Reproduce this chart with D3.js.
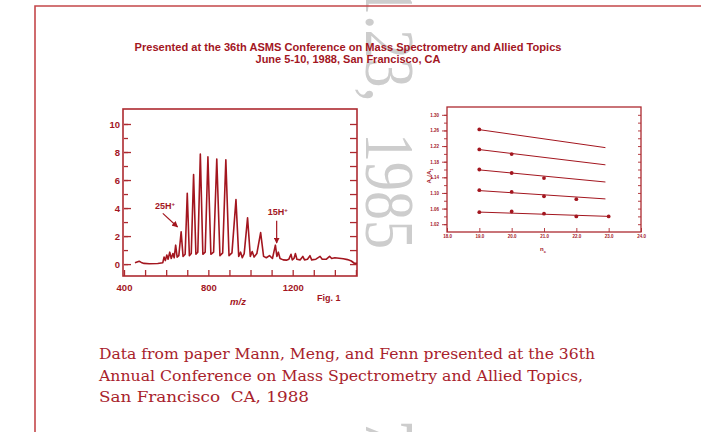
<!DOCTYPE html>
<html>
<head>
<meta charset="utf-8">
<script src="https://cdn.jsdelivr.net/npm/d3@7"></script>
<style>
  body { margin: 0; background: #fff; }
  svg { display: block; }
  .sans { font-family: "Liberation Sans", Arial, sans-serif; font-weight: bold; }
  .caption { white-space: pre; }
</style>
</head>
<body>
<div id="chart-area"></div>
<script>
// datos
const titleLines = [
  "Presented at the 36th ASMS Conference on Mass Spectrometry and Allied Topics",
  "June 5-10, 1988, San Francisco, CA"
];
const captionLines = [
  "Data from paper Mann, Meng, and Fenn presented at the 36th",
  "Annual Conference on Mass Spectrometry and Allied Topics,",
  "San Francisco  CA, 1988"
];

// espectro: [m/z, intensidad]
const spectrum = [
  [452,0.1],[462,0.15],[472,0.2],[482,0.12],[495,0.05],[520,0.02],[560,0.04],[584,0.1],
  [590,0.5],[596,0.25],[603,0.65],[609,0.35],[617,0.85],[624,0.4],[632,0.75],[638,0.45],
  [645,1.35],[652,0.5],[660,0.6],[671,2.3],[680,0.55],[690,0.7],[700,5.05],[710,0.6],
  [719,0.75],[730,6.4],[741,0.7],[750,0.85],[762,7.85],[774,0.7],[785,0.85],[798,7.65],
  [812,0.7],[825,0.85],[840,7.5],[855,0.6],[868,0.8],[883,7.45],[898,0.6],[912,0.8],
  [931,4.6],[944,0.55],[953,0.85],[961,0.45],[970,0.75],[986,3.3],[999,0.55],[1008,0.9],
  [1017,0.5],[1030,0.75],[1048,2.25],[1062,0.55],[1075,0.45],[1090,0.6],[1104,0.4],
  [1118,1.35],[1125,0.55],[1132,0.85],[1140,0.4],[1155,0.3],[1170,0.28],[1182,0.35],
  [1192,0.7],[1198,0.3],[1206,0.4],[1213,0.75],[1220,0.35],[1235,0.3],[1248,0.55],
  [1256,0.3],[1270,0.35],[1282,0.6],[1290,0.3],[1310,0.35],[1330,0.55],[1340,0.35],
  [1360,0.35],[1375,0.55],[1385,0.4],[1400,0.45],[1420,0.42],[1440,0.38],[1460,0.32],
  [1478,0.22],[1492,0.06],[1505,0.05]
];
const specXTickLabels = [400, 800, 1200];
const specYTickLabels = [0, 2, 4, 6, 8, 10];
// etiquetas de carga: punta y cola de la flecha, posicion del texto
const chargeLabels = [
  { z: "25", tip: [654, 2.65], tail: [584, 3.62], text: [595, 3.9] },
  { z: "15", tip: [1124, 1.5], tail: [1124, 3.1], text: [1129, 3.5] }
];

// grafico derecho
const nValues = [19, 20, 21, 22, 23];
const ratioSeries = [
  [1.2625],
  [1.2115, 1.1995],
  [1.160, 1.151, 1.138],
  [1.107, 1.1025, 1.0915, 1.084],
  [1.0508, 1.0525, 1.047, 1.040, 1.040]
];
const fitStart = [19, 19, 19, 19, 19];
const fitEnd = [22.9, 22.9, 22.9, 22.9, 23.0];
const fitStartValues = [1.262, 1.211, 1.159, 1.106, 1.051];
const fitEndValues = [1.216, 1.172, 1.128, 1.0847, 1.040];
const nTickLabels = ["18.0", "19.0", "20.0", "21.0", "22.0", "23.0", "24.0"];
const ratioTickLabels = ["1.02", "1.06", "1.10", "1.14", "1.18", "1.22", "1.26", "1.30"];

const ink = "#a3161f";
const frameColor = "#ad2a30";
const width = 701;
const height = 432;

const svg = d3.select("#chart-area")
  .append("svg")
  .attr("width", width)
  .attr("height", height);

// marca de agua gris
const wm = svg.append("g")
  .attr("fill", "#cdcdcd")
  .attr("font-family", "'Liberation Serif', 'Times New Roman', serif")
  .attr("font-size", 58);
wm.append("text")
  .attr("transform", "translate(366,-14) rotate(90) scale(1,1.2)")
  .text("1.23,");
wm.append("text")
  .attr("transform", "translate(366,133) rotate(90) scale(1,1.2)")
  .text("1985");
wm.append("text")
  .attr("transform", "translate(366,420) rotate(90) scale(1,1.2)")
  .text("75");

// borde exterior
svg.append("path")
  .attr("d", "M35,432 V6 H701")
  .attr("fill", "none")
  .attr("stroke", "#c4474a")
  .attr("stroke-width", 1.6);

// titulo
svg.append("g").selectAll("text")
  .data(titleLines)
  .enter().append("text")
  .attr("class", "sans")
  .attr("x", 348)
  .attr("y", (d, i) => 51 + i * 12)
  .attr("text-anchor", "middle")
  .attr("font-size", 10)
  .attr("fill", ink)
  .attr("textLength", (d, i) => i === 0 ? 427 : 185)
  .attr("lengthAdjust", "spacingAndGlyphs")
  .text(d => d);

// ---------- espectro ----------
const x = d3.scaleLinear().domain([400, 1505]).range([124, 357]);
const y = d3.scaleLinear().domain([-0.85, 11.07]).range([276, 109]);

const spec = svg.append("g").attr("class", "sans");

// ejes
const styleAxis = g => {
  g.select(".domain").remove();
  g.selectAll("line").attr("stroke", frameColor).attr("stroke-width", 1.3);
  g.selectAll("text").attr("fill", ink).attr("font-size", 9.5).attr("font-weight", "bold")
    .attr("font-family", "'Liberation Sans', Arial, sans-serif");
};

spec.append("g")
  .attr("transform", "translate(124,0)")
  .call(d3.axisLeft(y).tickValues(d3.range(0, 11, 1)).tickSize(-4).tickFormat(""))
  .call(styleAxis);
spec.append("g")
  .attr("transform", "translate(124,0)")
  .call(d3.axisLeft(y).tickValues(specYTickLabels).tickSize(-7).tickPadding(4))
  .call(styleAxis);
spec.append("g")
  .attr("transform", "translate(357,0)")
  .call(d3.axisRight(y).tickValues(d3.range(0, 11, 1)).tickSize(-7).tickFormat(""))
  .call(styleAxis);
spec.append("g")
  .attr("transform", "translate(0,276)")
  .call(d3.axisBottom(x).tickValues(d3.range(400, 1501, 100)).tickSize(-6).tickPadding(8)
    .tickFormat(d => specXTickLabels.includes(d) ? d : ""))
  .call(styleAxis);

spec.append("rect")
  .attr("x", x(400) - 1).attr("y", y(11.07))
  .attr("width", x(1505) - x(400) + 1).attr("height", y(-0.85) - y(11.07))
  .attr("fill", "none")
  .attr("stroke", frameColor)
  .attr("stroke-width", 1.6);

const specLine = d3.line()
  .x(d => x(d[0]))
  .y(d => y(d[1]));

spec.append("path")
  .datum(spectrum)
  .attr("d", specLine)
  .attr("fill", "none")
  .attr("stroke", ink)
  .attr("stroke-width", 1.6)
  .attr("stroke-linejoin", "round");

// flechas
svg.append("defs").append("marker")
  .attr("id", "head")
  .attr("viewBox", "0 0 10 10")
  .attr("refX", 9).attr("refY", 5)
  .attr("markerWidth", 5).attr("markerHeight", 5)
  .attr("orient", "auto")
  .append("path")
  .attr("d", "M0,0 L10,5 L0,10 z")
  .attr("fill", ink);

chargeLabels.forEach(c => {
  spec.append("line")
    .attr("x1", x(c.tail[0])).attr("y1", y(c.tail[1]))
    .attr("x2", x(c.tip[0])).attr("y2", y(c.tip[1]))
    .attr("stroke", ink)
    .attr("stroke-width", 1.2)
    .attr("marker-end", "url(#head)");
  const t = spec.append("text")
    .attr("x", x(c.text[0])).attr("y", y(c.text[1]))
    .attr("text-anchor", "middle")
    .attr("font-size", 9)
    .attr("fill", ink);
  t.append("tspan").text(c.z + "H");
  t.append("tspan").attr("dy", -3).attr("font-size", 6).text("+");
});

spec.append("text")
  .attr("x", 238).attr("y", 305)
  .attr("text-anchor", "middle")
  .attr("font-size", 9.5)
  .attr("font-style", "italic")
  .attr("fill", ink)
  .text("m/z");
spec.append("text")
  .attr("x", 317).attr("y", 301)
  .attr("font-size", 9)
  .attr("fill", ink)
  .text("Fig.  1");

// ---------- grafico derecho ----------
const xn = d3.scaleLinear().domain([18, 24]).range([447, 641]);
const yr = d3.scaleLinear().domain([1.00, 1.32]).range([232, 107]);

const right = svg.append("g").attr("class", "sans");

const styleSmall = g => {
  g.select(".domain").remove();
  g.selectAll("line").attr("stroke", frameColor).attr("stroke-width", 0.9);
  g.selectAll("text").attr("fill", ink).attr("font-size", 4.5).attr("font-weight", "bold")
    .attr("font-family", "'Liberation Sans', Arial, sans-serif");
};

const ratioTicks = d3.range(1.02, 1.315, 0.02);
right.append("g")
  .attr("transform", "translate(447,0)")
  .call(d3.axisLeft(yr).tickValues(ratioTicks).tickSize(3).tickFormat(""))
  .call(styleSmall);
right.append("g")
  .attr("transform", "translate(447,0)")
  .call(d3.axisLeft(yr).tickValues(ratioTickLabels.map(Number)).tickSize(5).tickPadding(3)
    .tickFormat((d, i) => ratioTickLabels[i]))
  .call(styleSmall);
right.append("g")
  .attr("transform", "translate(641,0)")
  .call(d3.axisRight(yr).tickValues(ratioTicks).tickSize(-3).tickFormat(""))
  .call(styleSmall);
right.append("g")
  .attr("transform", "translate(0,232)")
  .call(d3.axisBottom(xn).tickValues(nTickLabels.map(Number)).tickSize(-4).tickPadding(3)
    .tickFormat((d, i) => nTickLabels[i]))
  .call(styleSmall);

right.append("rect")
  .attr("x", 447).attr("y", 107)
  .attr("width", 641 - 447).attr("height", 232 - 107)
  .attr("fill", "none")
  .attr("stroke", frameColor)
  .attr("stroke-width", 1.3);

// rectas ajustadas
right.selectAll(".fit")
  .data(fitStartValues)
  .enter().append("line")
  .attr("class", "fit")
  .attr("x1", (d, i) => xn(fitStart[i]))
  .attr("y1", d => yr(d))
  .attr("x2", (d, i) => xn(fitEnd[i]))
  .attr("y2", (d, i) => yr(fitEndValues[i]))
  .attr("stroke", ink)
  .attr("stroke-width", 1);

// puntos
ratioSeries.forEach(s => {
  right.selectAll(null)
    .data(s)
    .enter().append("circle")
    .attr("cx", (d, i) => xn(nValues[i]))
    .attr("cy", d => yr(d))
    .attr("r", 1.9)
    .attr("fill", ink);
});

const yt = right.append("text")
  .attr("transform", "translate(431,176) rotate(-90)")
  .attr("text-anchor", "middle")
  .attr("font-size", 6)
  .attr("fill", ink);
yt.append("tspan").text("A");
yt.append("tspan").attr("dy", 1.5).attr("font-size", 4).text("n");
yt.append("tspan").attr("dy", -1.5).text("/A");
yt.append("tspan").attr("dy", 1.5).attr("font-size", 4).text("1");

const xt = right.append("text")
  .attr("x", 543).attr("y", 251)
  .attr("text-anchor", "middle")
  .attr("font-size", 6)
  .attr("fill", ink);
xt.append("tspan").text("n");
xt.append("tspan").attr("dy", 1.5).attr("font-size", 4).text("c");

// texto inferior
svg.append("g").selectAll("text")
  .data(captionLines)
  .enter().append("text")
  .attr("class", "caption")
  .attr("x", 99)
  .attr("y", (d, i) => 359 + i * 21.5)
  .attr("font-family", "'DejaVu Serif', serif")
  .attr("font-size", 15)
  .attr("fill", "#a8222b")
  .attr("textLength", (d, i) => [496, 484, 210][i])
  .attr("lengthAdjust", "spacingAndGlyphs")
  .text(d => d);
</script>
</body>
</html>
